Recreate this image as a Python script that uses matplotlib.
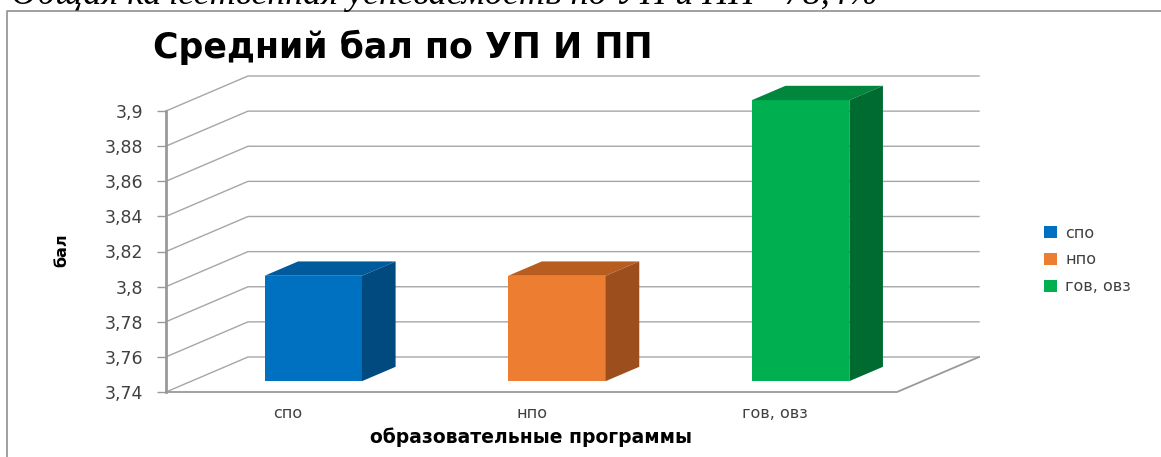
import numpy as np
import matplotlib
matplotlib.use("Agg")
import matplotlib.pyplot as plt
from matplotlib.patches import Polygon
from matplotlib.lines import Line2D
from matplotlib.ticker import MultipleLocator, FuncFormatter
from matplotlib.transforms import offset_copy

# data
categories = ["спо", "нпо", "гов, овз"]
scores = [3.80, 3.80, 3.90]
front_colors = ["#0070C0", "#ED7D31", "#00B050"]
top_colors = ["#005A9C", "#B85D20", "#00873D"]
side_colors = ["#004A80", "#9C4F1D", "#006B30"]

title = "Средний бал по УП И ПП"
doc_line = "Общая качественная успеваемость по УП и ПП - 78,4%"
y_min, y_max, y_step = 3.74, 3.90, 0.02

# 3d look, in pixels
DEPTH_X, DEPTH_Y = 82, 35
BAR_FRONT, BAR_BACK = 0.31, 0.72
GRID = "#A6A6A6"
TXT = "#404040"

W, H = 1161, 457
fig = plt.figure(figsize=(W / 100, H / 100), dpi=100)
ax = fig.add_axes([166 / W, (H - 392) / H, 731 / W, 281 / H])
ax.set_xlim(-0.5, len(categories) - 0.5)
ax.set_ylim(y_min, y_max)
for s in ax.spines.values():
    s.set_visible(False)


def push(x, y, frac):
    # move a data point back into the depth of the chart
    px, py = ax.transData.transform((x, y))
    return ax.transData.inverted().transform((px + frac * DEPTH_X, py + frac * DEPTH_Y))


x0, x1 = ax.get_xlim()
ticks = np.arange(y_min, y_max + y_step / 2, y_step)

# walls: left side + back gridlines
for v in ticks:
    bl = push(x0, v, 1)
    br = push(x1, v, 1)
    ax.plot([x0, bl[0], br[0]], [v, bl[1], br[1]], color=GRID, lw=1.0, zorder=1, clip_on=False)

# floor front edge and right edge
fr = push(x1, y_min, 1)
ax.plot([x0, x1, fr[0]], [y_min, y_min, fr[1]], color="#999999", lw=1.3, zorder=1, clip_on=False)
# vertical axis
ax.plot([x0, x0], [y_min, y_max], color="#999999", lw=2, zorder=2, clip_on=False)

# bars
xs = np.arange(len(categories))
bw = 0.4
shifted = offset_copy(ax.transData, fig, x=BAR_FRONT * DEPTH_X, y=BAR_FRONT * DEPTH_Y, units="dots")
bars = ax.bar(xs, np.array(scores) - y_min, bottom=y_min, width=bw, color=front_colors,
              transform=shifted, zorder=3, clip_on=False)
for i, (x, v) in enumerate(zip(xs, scores)):
    l, r = x - bw / 2, x + bw / 2
    top = [push(l, v, BAR_FRONT), push(r, v, BAR_FRONT), push(r, v, BAR_BACK), push(l, v, BAR_BACK)]
    side = [push(r, y_min, BAR_FRONT), push(r, v, BAR_FRONT), push(r, v, BAR_BACK), push(r, y_min, BAR_BACK)]
    ax.add_patch(Polygon(top, closed=True, facecolor=top_colors[i], edgecolor="none", zorder=3, clip_on=False))
    ax.add_patch(Polygon(side, closed=True, facecolor=side_colors[i], edgecolor="none", zorder=3, clip_on=False))
    bars[i].set_label(categories[i])

# axes ticks
ax.yaxis.set_major_locator(MultipleLocator(y_step))
ax.yaxis.set_major_formatter(FuncFormatter(lambda v, p: f"{round(v, 2):g}".replace(".", ",")))
ax.tick_params(axis="y", length=6.5, width=1, color="#999999", pad=10, labelsize=12.5, labelcolor=TXT)
ax.set_xticks(xs, categories)
ax.tick_params(axis="x", length=0, pad=10, labelsize=11.5, labelcolor=TXT)
ax.set_xlabel("образовательные программы", fontsize=13.5, fontweight="bold", labelpad=5)

fig.text(62 / W, 1 - 250 / H, "бал", rotation=90, ha="center", va="center",
         fontsize=11.5, fontweight="bold", family=["Liberation Sans Narrow", "DejaVu Sans"])
fig.text(153 / W, 1 - 47 / H, title, ha="left", va="center", fontsize=25, fontweight="bold")
fig.text(11 / W, 1 - 4 / H, doc_line, ha="left", va="baseline", fontsize=26,
         family="Liberation Serif", style="italic")

ax.legend(handles=list(bars), loc="center left", bbox_to_anchor=(1030 / W, 1 - 260 / H),
          bbox_transform=fig.transFigure, frameon=False, fontsize=11.5, handlelength=0.8,
          handleheight=0.8, labelspacing=0.75, handletextpad=0.5, labelcolor=TXT)

# chart frame
fig.add_artist(Line2D([6.5 / W, 6.5 / W, 1], [0, 1 - 11 / H, 1 - 11 / H],
                      transform=fig.transFigure, color="#999999", lw=1.3))

fig.savefig("out.png", dpi=100)
